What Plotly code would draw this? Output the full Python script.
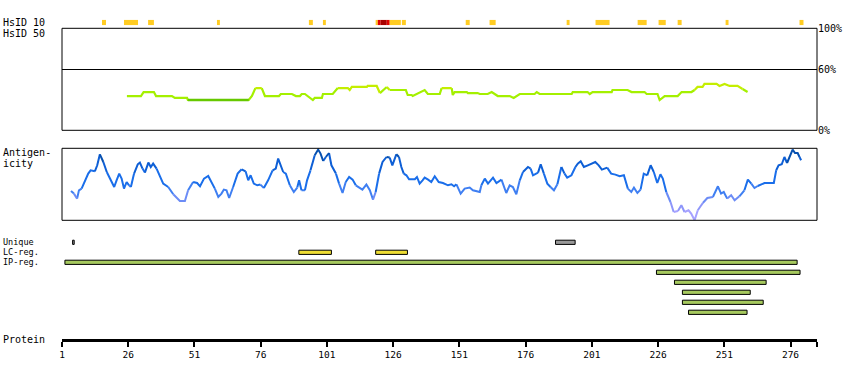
import plotly.graph_objects as go

# ---------------- data ----------------
protein_length = 285
tick_residues = [1, 26, 51, 76, 101, 126, 151, 176, 201, 226, 251, 276]

# HsID 10 identity blocks (residue start / end, level 1=low,2=mid,3=high)
hsid10_start = [16.1, 24.4, 33.5, 59.5, 94.2, 99.5, 119.4, 120.2, 121.3, 123.6, 124.7, 129.3,
                153.4, 162.4, 191.5, 202.4, 218.3, 226.2, 233.4, 251.5, 279.4]
hsid10_end = [17.6, 29.7, 35.7, 60.6, 95.7, 100.6, 120.2, 121.3, 123.6, 124.7, 128.9, 130.8,
              154.9, 164.7, 192.6, 207.7, 221.7, 228.9, 234.9, 252.6, 280.9]
hsid10_level = [1, 1, 1, 1, 1, 1, 1, 2, 3, 2, 1, 1,
                1, 1, 1, 1, 1, 1, 1, 1, 1]

# HsID 50 identity profile (%)
hsid50_res = [25.5, 30.8, 31.8, 35.7, 36.5, 42.5, 43.6, 48.2, 48.5, 71.5,
              72.7, 74.0, 76.4, 77.6, 82.9, 83.6, 87.8, 89.3, 90.8, 91.5,
              92.7, 95.7, 96.4, 99.1, 99.5, 103.2, 105.1, 108.9, 109.6, 110.4,
              116.1, 116.4, 119.8, 121.0, 123.6, 124.7, 130.8, 131.5, 133.0, 133.4,
              136.0, 137.9, 139.1, 143.6, 144.3, 148.1, 148.5, 149.2, 153.8, 154.2,
              157.9, 158.7, 161.7, 163.2, 165.5, 170.0, 171.5, 173.8, 179.4, 180.2,
              181.3, 193.4, 193.8, 199.4, 200.2, 201.3, 208.5, 208.8, 214.5, 216.0,
              220.9, 221.7, 225.8, 226.6, 228.5, 233.4, 234.9, 238.6, 239.8, 240.9,
              242.8, 243.5, 248.1, 249.2, 251.1, 253.0, 256.0, 257.9, 259.8]
hsid50_val = [33.6, 33.6, 37.5, 37.5, 33.6, 33.6, 31.7, 31.7, 29.7, 29.7,
              33.6, 41.4, 41.4, 33.6, 33.6, 35.6, 35.6, 33.6, 33.6, 35.6,
              35.6, 29.7, 31.7, 31.7, 35.6, 35.6, 41.4, 41.4, 39.5, 42.5,
              42.5, 43.5, 43.5, 36.5, 42.5, 39.5, 39.5, 34.6, 34.6, 33.6,
              37.5, 39.5, 35.6, 35.6, 41.4, 41.4, 34.6, 37.5, 37.5, 36.5,
              36.5, 35.6, 35.6, 37.5, 33.6, 33.6, 31.7, 35.6, 35.6, 37.5,
              35.6, 35.6, 37.5, 37.5, 35.6, 37.5, 37.5, 39.5, 39.5, 37.5,
              37.5, 35.6, 35.6, 29.7, 33.6, 33.6, 37.5, 37.5, 39.5, 42.5,
              42.5, 45.5, 45.5, 43.5, 45.5, 43.5, 43.5, 40.5, 37.5]
hsid50_dark_range = [48.5, 71.5]

# Antigenicity profile (score, 0 = panel bottom)
antigen_res = [4.4, 5.5, 6.7, 7.4, 8.4, 9.7, 10.9, 11.8, 13.4, 14.3,
               15.3, 16.6, 17.9, 19.7, 20.7, 21.6, 22.6, 23.5, 24.4, 25.4,
               26.3, 27.0, 28.2, 29.6, 30.4, 31.4, 32.3, 33.6, 34.5, 35.4,
               36.7, 38.0, 39.2, 41.1, 43.0, 45.5, 47.4, 48.6, 50.5, 52.0,
               53.1, 54.6, 56.2, 57.5, 58.7, 60.0, 61.2, 62.1, 63.1, 64.1,
               65.6, 67.3, 68.8, 70.3, 71.3, 72.2, 73.4, 74.7, 75.9, 77.2,
               78.8, 80.5, 81.7, 82.6, 83.6, 84.5, 85.5, 87.0, 88.5, 89.8,
               90.5, 91.4, 92.7, 93.5, 94.8, 96.4, 97.7, 98.6, 99.6, 100.6,
               101.8, 102.7, 104.4, 105.6, 106.9, 108.1, 109.4, 110.7, 111.9, 113.1,
               114.4, 115.9, 117.2, 118.4, 119.4, 120.7, 122.0, 123.5, 124.7, 125.7,
               127.2, 128.2, 129.1, 130.0, 131.0, 132.0, 134.2, 135.0, 136.0, 137.1,
               137.9, 139.2, 140.4, 141.7, 143.2, 144.8, 146.7, 148.0, 149.0, 149.9,
               151.5, 153.0, 154.9, 156.1, 158.7, 159.3, 160.6, 161.8, 163.7, 165.0,
               166.9, 168.7, 170.0, 171.2, 172.5, 173.8, 175.0, 176.9, 177.9, 178.8,
               180.7, 181.7, 182.9, 184.2, 185.4, 186.7, 188.0, 189.5, 190.7, 191.7,
               193.3, 194.8, 195.7, 196.8, 198.0, 199.5, 200.8, 202.3, 203.6, 204.8,
               206.8, 208.3, 209.9, 211.5, 213.1, 214.6, 215.9, 216.9, 218.2, 219.4,
               220.6, 221.9, 223.2, 224.4, 225.7, 226.9, 227.8, 229.1, 230.7, 231.9,
               233.5, 234.8, 236.0, 237.5, 238.5, 239.8, 241.0, 242.9, 244.6, 246.7,
               248.6, 249.8, 250.8, 252.1, 253.6, 254.9, 256.7, 258.6, 259.9, 261.2,
               262.4, 263.6, 266.2, 269.7, 270.6, 271.5, 272.7, 273.7, 274.7, 276.0,
               276.8, 277.7, 278.7, 279.4, 280.0]
antigen_val = [29.3, 26.7, 21.7, 30.0, 31.7, 39.3, 46.7, 50.0, 49.0, 55.0,
               66.0, 58.3, 48.3, 38.3, 33.3, 40.0, 46.7, 41.7, 31.7, 38.3,
               35.0, 33.3, 46.7, 56.0, 57.7, 51.7, 47.7, 57.7, 53.3, 56.7,
               51.7, 43.3, 36.7, 33.3, 26.0, 19.3, 19.3, 30.0, 38.3, 37.3,
               34.0, 41.7, 44.3, 38.3, 31.7, 23.3, 26.7, 30.7, 30.0, 22.3,
               33.3, 46.7, 51.0, 49.0, 40.0, 45.0, 36.7, 35.0, 35.7, 32.3,
               40.0, 50.0, 51.7, 61.7, 55.0, 48.3, 46.7, 35.0, 28.3, 32.7,
               40.0, 30.0, 30.0, 40.0, 50.0, 65.0, 70.7, 66.7, 59.3, 63.3,
               67.3, 55.0, 46.7, 36.7, 27.3, 38.3, 43.3, 40.7, 35.0, 33.3,
               30.7, 35.7, 30.0, 20.7, 28.3, 46.7, 58.3, 63.3, 62.7, 55.0,
               66.0, 63.3, 53.3, 46.7, 45.0, 41.0, 41.0, 43.3, 36.7, 40.0,
               42.7, 40.7, 38.3, 44.0, 38.3, 37.3, 35.0, 36.0, 34.0, 36.0,
               26.7, 31.7, 32.7, 30.0, 28.3, 35.0, 41.7, 36.7, 42.7, 37.3,
               40.7, 27.3, 35.0, 33.3, 26.0, 40.0, 48.3, 53.3, 51.7, 45.0,
               47.7, 56.0, 46.7, 36.7, 33.3, 30.0, 36.0, 53.3, 46.7, 42.7,
               45.0, 53.3, 56.7, 59.0, 53.3, 55.0, 56.7, 58.3, 55.0, 50.7,
               52.7, 46.7, 45.7, 44.0, 45.0, 31.7, 28.3, 32.7, 27.3, 30.7,
               46.7, 45.0, 55.0, 48.3, 37.3, 46.0, 41.7, 28.3, 18.3, 8.3,
               9.3, 15.0, 8.3, 10.0, 6.7, 0.0, 10.0, 17.3, 22.3, 23.3,
               34.0, 26.7, 28.3, 21.7, 25.0, 20.0, 24.0, 30.0, 40.7, 36.7,
               32.3, 34.3, 37.3, 37.3, 50.0, 55.0, 56.0, 63.3, 57.3, 66.7,
               70.7, 67.3, 67.3, 63.3, 60.0]

# Feature tracks
feature_rows = ["Unique", "Unique", "LC-reg.", "LC-reg.", "IP-reg.", "IP-reg.",
                "IP-reg.", "IP-reg.", "IP-reg.", "IP-reg."]
feature_lane = [0, 0, 1, 1, 2, 3, 4, 5, 6, 7]
feature_start = [5.0, 187.3, 90.4, 119.4, 2.1, 225.4, 232.2, 235.2, 235.2, 237.5]
feature_end = [5.6, 194.7, 102.7, 131.4, 278.5, 279.6, 266.8, 260.8, 265.7, 259.6]
feature_labels = ["Unique", "LC-reg.", "IP-reg."]

# ---------------- styles ----------------
W, H = 850, 380
FONT = "DejaVu Sans Mono"
level_colors = {1: "#FFCC22", 2: "#E00000", 3: "#A80000"}
feature_colors = {"Unique": "#999999", "LC-reg.": "#EEDD33", "IP-reg.": "#A6C95E"}


def pdom(top_px, bottom_px):
    return [1 - bottom_px / H, 1 - top_px / H]


def antigen_color(v):
    if v >= 62:
        return "#0650B0"
    if v >= 50:
        return "#0E5FD6"
    if v >= 35:
        return "#1A6EEA"
    if v >= 25:
        return "#3F7FF2"
    if v >= 18:
        return "#6C8CF6"
    if v >= 10:
        return "#8E96FA"
    return "#A6A2FF"


def hsid_color(v):
    return "#C4EE00" if v >= 40 else "#A4F000"


def banded_traces(xs, ys, color_of, yaxis, width):
    runs = []
    cur_c, cur = None, []
    for i in range(len(xs) - 1):
        c = color_of((ys[i] + ys[i + 1]) / 2)
        if c != cur_c:
            if cur:
                runs.append((cur_c, cur))
            cur_c, cur = c, [(xs[i], ys[i])]
        cur.append((xs[i + 1], ys[i + 1]))
    if cur:
        runs.append((cur_c, cur))
    by_color = {}
    for c, pts in runs:
        bx, by = by_color.setdefault(c, ([], []))
        for p in pts:
            bx.append(p[0]); by.append(p[1])
        bx.append(None); by.append(None)
    traces = []
    for c, (bx, by) in by_color.items():
        traces.append(go.Scatter(x=bx, y=by, mode="lines", yaxis=yaxis, xaxis="x",
                                 line=dict(color=c, width=width), hoverinfo="skip",
                                 showlegend=False))
    return traces


fig = go.Figure()

# HsID 10
fig.add_trace(go.Bar(orientation="h", y=[0.5] * len(hsid10_start),
                     base=hsid10_start,
                     x=[e - s for s, e in zip(hsid10_start, hsid10_end)],
                     width=1, marker=dict(color=[level_colors[l] for l in hsid10_level],
                                          line=dict(width=0)),
                     xaxis="x", yaxis="y5", showlegend=False))

# HsID 50
for t in banded_traces(hsid50_res, hsid50_val, hsid_color, "y4", 2.2):
    fig.add_trace(t)
dx = [r for r in hsid50_res if hsid50_dark_range[0] <= r <= hsid50_dark_range[1]]
dy = [v for r, v in zip(hsid50_res, hsid50_val) if hsid50_dark_range[0] <= r <= hsid50_dark_range[1]]
fig.add_trace(go.Scatter(x=dx, y=dy, mode="lines", xaxis="x", yaxis="y4",
                         line=dict(color="#66C800", width=2.4), showlegend=False))

# Antigenicity
for t in banded_traces(antigen_res, antigen_val, antigen_color, "y3", 2):
    fig.add_trace(t)

# Features
fig.add_trace(go.Bar(orientation="h", y=feature_lane, base=feature_start,
                     x=[e - s for s, e in zip(feature_start, feature_end)],
                     width=0.42,
                     marker=dict(color=[feature_colors[r] for r in feature_rows],
                                 line=dict(color="black", width=1)),
                     xaxis="x", yaxis="y2", showlegend=False))

fig.update_layout(
    width=W, height=H, margin=dict(l=0, r=0, t=0, b=0, autoexpand=False),
    paper_bgcolor="white", plot_bgcolor="white", barmode="overlay",
    font=dict(family=FONT, size=10, color="black"),
    xaxis=dict(domain=[62 / W, 817 / W], range=[1, protein_length + 1],
               anchor="free", position=1 - 339.5 / H,
               showline=True, linecolor="black", linewidth=3,
               ticks="outside", ticklen=5, tickwidth=2, tickcolor="black",
               tickvals=tick_residues + [protein_length + 1],
               ticktext=[str(t) for t in tick_residues] + [""],
               tickfont=dict(family=FONT, size=9.5, color="black"),
               showgrid=False, zeroline=False, fixedrange=True),
    yaxis2=dict(domain=pdom(237.3, 317.3), range=[7.5, -0.5], anchor="x",
                visible=False, fixedrange=True),
    yaxis3=dict(domain=pdom(148.3, 220.3), range=[0, 72], anchor="x",
                visible=False, fixedrange=True),
    yaxis4=dict(domain=pdom(28.3, 130.3), range=[0, 100], anchor="x", side="right",
                tickvals=[0, 60, 100], ticktext=["0%", "60%", "100%"], ticks="",
                showgrid=True, gridcolor="black", gridwidth=1, zeroline=False,
                showline=False, tickfont=dict(family=FONT, size=10, color="black"),
                fixedrange=True),
    yaxis5=dict(domain=pdom(19.8, 25.2), range=[0, 1], anchor="x",
                visible=False, fixedrange=True),
    showlegend=False,
)

for ax in ["y3", "y4"]:
    fig.add_shape(type="rect", xref="x domain", yref=f"{ax} domain",
                  x0=0, x1=1, y0=0, y1=1, line=dict(color="black", width=1),
                  layer="above")

labels = [("HsID 10", 22.5), ("HsID 50", 33), ("Antigen-", 152.7), ("icity", 163),
          ("Protein", 339.5)]
for txt, ypx in labels:
    fig.add_annotation(text=txt, xref="paper", yref="paper", x=1 / W, y=1 - ypx / H,
                       xanchor="left", yanchor="middle", showarrow=False,
                       font=dict(family=FONT, size=10, color="black"))

# feature row labels, placed on their lanes
for lane, txt in enumerate(feature_labels):
    fig.add_annotation(text=txt, xref="paper", yref="y2", x=1 / W, y=lane,
                       xanchor="left", yanchor="middle", showarrow=False,
                       font=dict(family=FONT, size=8.5, color="black"))

fig.write_html("out.html", config={"displayModeBar": False},
               post_script="document.body.style.margin='0';document.body.style.padding='0';")
